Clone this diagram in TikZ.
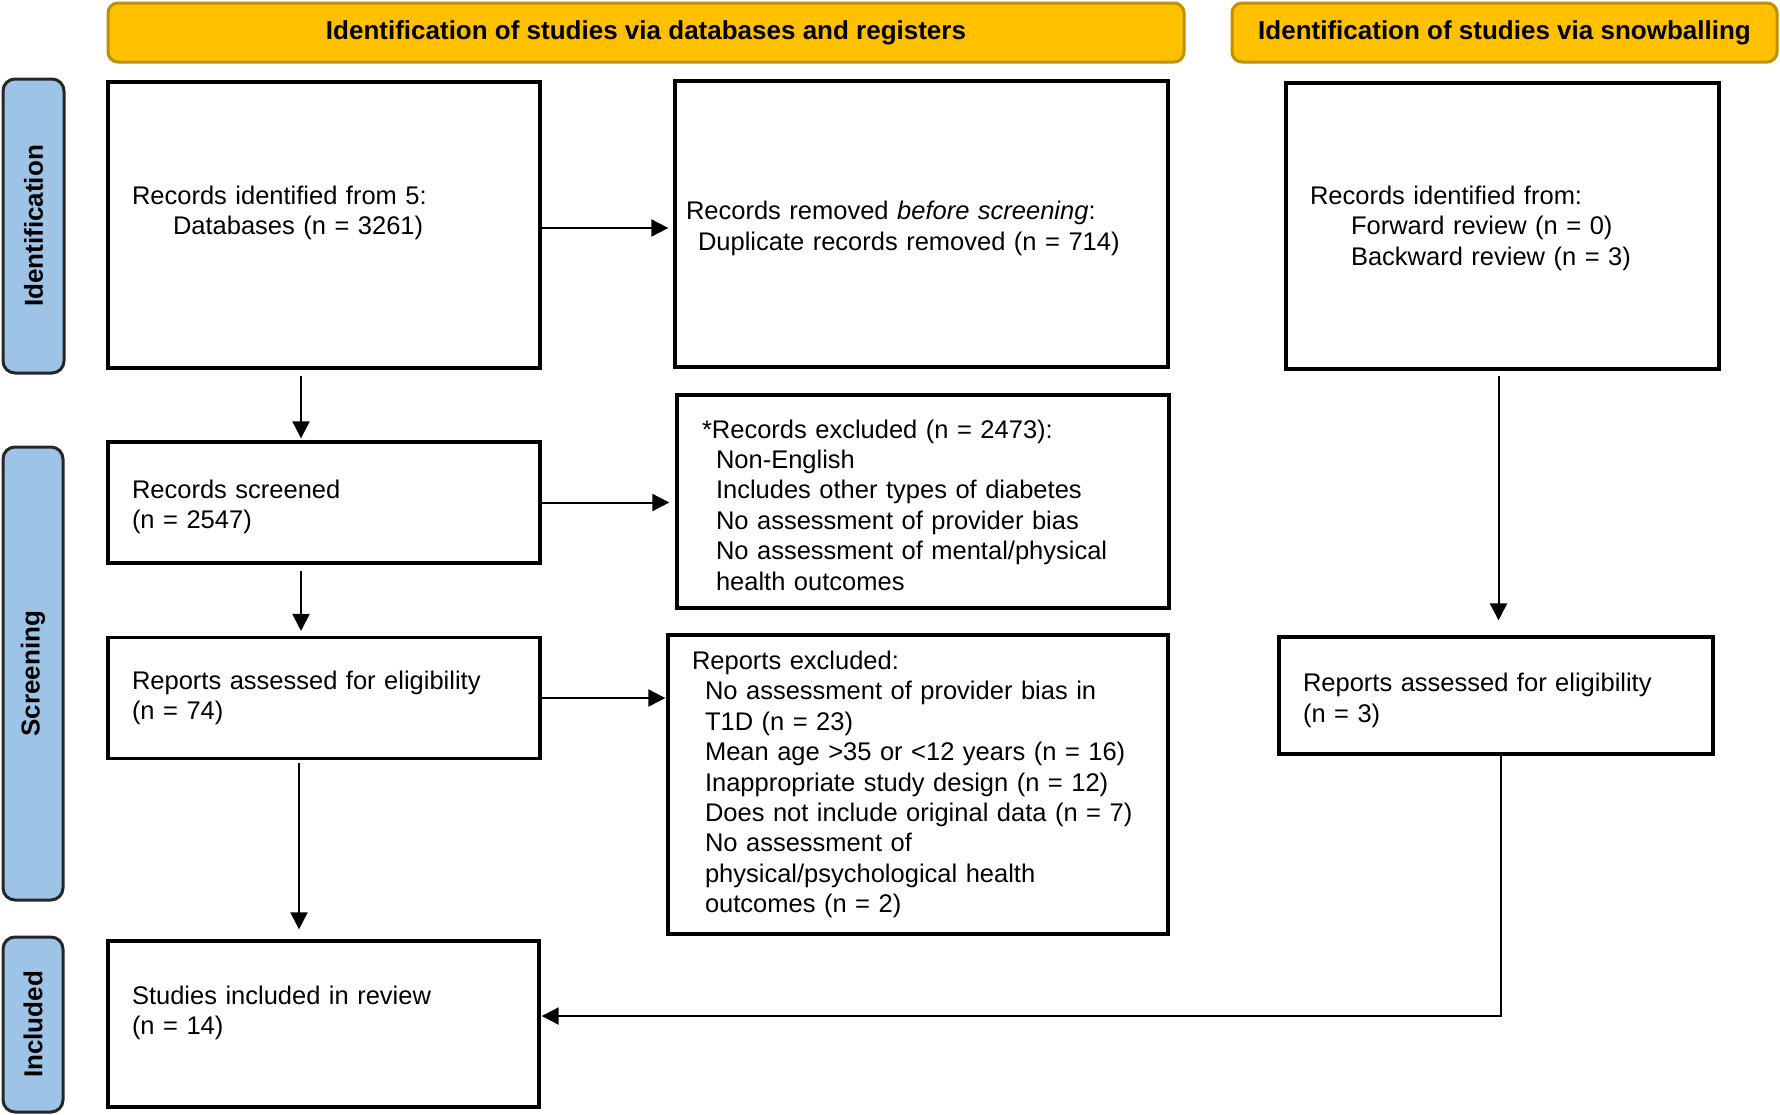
\documentclass[tikz,border=0pt]{standalone}
\usepackage{fontspec}
\setmainfont{Liberation Sans}
\usetikzlibrary{arrows.meta}
\definecolor{hdrgold}{HTML}{FFC000}
\definecolor{hdredge}{HTML}{BF9000}
\definecolor{sideblue}{HTML}{9DC3E6}

\begin{document}
\begin{tikzpicture}[x=0.5pt,y=-0.5pt,
    box/.style={draw, line width=1.65pt, inner sep=0pt, align=left, font=\fontsize{12.75}{15.2}\selectfont},
    hdr/.style={draw=hdredge, fill=hdrgold, line width=1.5pt, rounded corners=5pt, inner sep=0pt, font=\fontsize{13}{15}\selectfont\bfseries},
    side/.style={draw=black!85, fill=sideblue, line width=1.5pt, rounded corners=6pt, rotate=90, inner sep=0pt, font=\fontsize{13}{15}\selectfont\bfseries},
    arr/.style={line width=1pt, -{Triangle[length=8.5pt,width=8.5pt]}}]
    \useasboundingbox (0,0) rectangle (1780,1114);

    % Headers
    \node[hdr, minimum width=538pt, minimum height=29.5pt] (hdrDB) at (646,32.5) {Identification of studies via databases and registers};
    \node[hdr, minimum width=272.5pt, minimum height=29.5pt] (hdrSB) at (1504.5,32.5) {Identification of studies via snowballing};

    % Phase labels
    \node[side, minimum width=147pt, minimum height=30.5pt] (sideId) at (33.5,226) {Identification};
    \node[side, minimum width=226.5pt, minimum height=30pt] (sideScr) at (33,673.5) {Screening};
    \node[side, minimum width=87.5pt, minimum height=30pt] (sideInc) at (33,1024.5) {Included};

    % Databases and registers
    \node[box, minimum width=216pt, minimum height=143pt, text width=192pt, text depth=30pt] (recA) at (324,225)
        {Records identified from 5:\\\hspace*{20.5pt}Databases (n = 3261)};
    \node[box, minimum width=246.5pt, minimum height=143pt, text width=235.5pt, text depth=13.4pt] (recB) at (921.5,224)
        {Records removed \textit{before screening}:\\\hspace*{6pt}Duplicate records removed (n = 714)};
    \node[box, minimum width=216pt, minimum height=60.5pt, text width=192pt, text depth=13.4pt] (recD) at (324,502.5)
        {Records screened\\(n = 2547)};
    \node[box, minimum width=246pt, minimum height=106.5pt, text width=221pt, text depth=72.6pt] (recE) at (923,501.5)
        {*Records excluded (n = 2473):\\\hspace*{7pt}Non-English\\\hspace*{7pt}Includes other types of diabetes\\\hspace*{7pt}No assessment of provider bias\\\hspace*{7pt}No assessment of mental/physical\\\hspace*{7pt}health outcomes};
    \node[box, minimum width=216pt, minimum height=60.8pt, text width=192pt] (recF) at (324,698)
        {Reports assessed for eligibility\\(n = 74)};
    \node[box, minimum width=250pt, minimum height=149.5pt, text width=226pt] (recG) at (918,784.5)
        {Reports excluded:\\\hspace*{6.5pt}No assessment of provider bias in\\\hspace*{6.5pt}T1D (n = 23)\\\hspace*{6.5pt}Mean age >35 or <12 years (n = 16)\\\hspace*{6.5pt}Inappropriate study design (n = 12)\\\hspace*{6.5pt}Does not include original data (n = 7)\\\hspace*{6.5pt}No assessment of\\\hspace*{6.5pt}physical/psychological health\\\hspace*{6.5pt}outcomes (n = 2)};
    \node[box, minimum width=215.5pt, minimum height=83pt, text width=191.5pt, text depth=29pt] (recI) at (323.5,1024)
        {Studies included in review\\(n = 14)};

    % Snowballing
    \node[box, minimum width=216.5pt, minimum height=143pt, text width=192.5pt, text depth=30.8pt] (snwC) at (1502.5,226)
        {Records identified from:\\\hspace*{20.5pt}Forward review (n = 0)\\\hspace*{20.5pt}Backward review (n = 3)};
    \node[box, minimum width=217pt, minimum height=58.5pt, text width=193pt, text depth=13pt] (snwH) at (1496,695.5)
        {Reports assessed for eligibility\\(n = 3)};

    % Connectors
    \draw[arr, shorten >=2.5pt] ([yshift=-1.5pt]recA.east) -- ([yshift=-1.5pt]recA.east -| recB.west);
    \draw[arr, shorten <=3pt, shorten >=1pt] ([xshift=-11.5pt]recA.south) -- ([xshift=-11.5pt]recA.south |- recD.north);
    \draw[arr, shorten >=3pt] (recD.east) -- (recD.east -| recE.west);
    \draw[arr, shorten <=3pt, shorten >=2.3pt] ([xshift=-11.5pt]recD.south) -- ([xshift=-11.5pt]recD.south |- recF.north);
    \draw[arr, shorten >=0.5pt] (recF.east) -- (recF.east -| recG.west);
    \draw[arr, shorten <=1.5pt, shorten >=5pt] ([xshift=-12.5pt]recF.south) -- ([xshift=-12.5pt]recF.south |- recI.north);
    \draw[arr, shorten <=2.5pt, shorten >=7.5pt] ([xshift=-2pt]snwC.south) -- ([xshift=-2pt]snwC.south |- snwH.north);
    \draw[arr, shorten >=0.5pt] ([xshift=2.5pt]snwH.south) |- ([yshift=4pt]recI.east);
\end{tikzpicture}
\end{document}
